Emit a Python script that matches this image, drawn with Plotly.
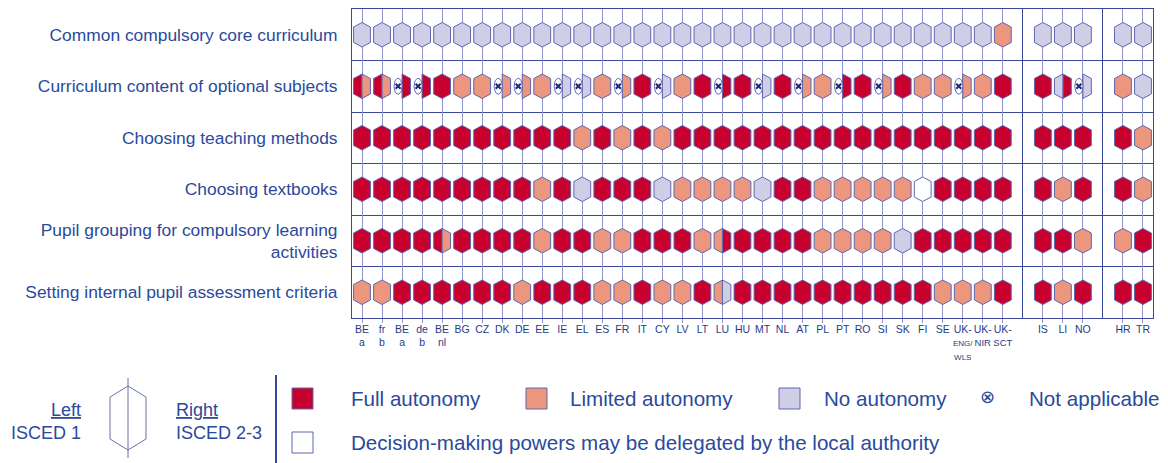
import numpy as np
import plotly.graph_objects as go

# Row labels (areas of decision)
areas = [
    "Common compulsory core curriculum",
    "Curriculum content of optional subjects",
    "Choosing teaching methods",
    "Choosing textbooks",
    "Pupil grouping for compulsory learning<br>activities",
    "Setting internal pupil assessment criteria",
]

small = "<span style='font-size:8px'>{}</span>"
mid = "<span style='font-size:9.5px'>{}</span>"
eu_countries = ["BE<br>a", "fr<br>b", "BE<br>a", "de<br>b", "BE<br>nl", "BG", "CZ", "DK", "DE", "EE",
                "IE", "EL", "ES", "FR", "IT", "CY", "LV", "LT", "LU", "HU", "MT", "NL", "AT", "PL",
                "PT", "RO", "SI", "SK", "FI", "SE",
                "UK-<br>" + small.format("ENG/") + "<br>" + small.format("WLS"),
                "UK-<br>" + mid.format("NIR"), "UK-<br>" + mid.format("SCT")]
efta_countries = ["IS", "LI", "NO"]
candidate_countries = ["HR", "TR"]

# codes: left half = ISCED 1, right half = ISCED 2-3
# F full autonomy, L limited, N no autonomy, X not applicable, W delegated by local authority
core_curriculum = ["NN"] * 32 + ["LL"] + ["NN"] * 3 + ["NN"] * 2
optional_subjects = ["FL", "FL", "XF", "XF", "FF", "LL", "LL", "XL", "XL", "LL",
                     "XN", "XN", "LL", "XL", "FF", "XN", "LL", "FF", "XF", "FF",
                     "XN", "FF", "XL", "LL", "XF", "FF", "XL", "FF", "LL", "LL",
                     "XL", "LL", "FF",
                     "FF", "NF", "XN",
                     "LL", "NN"]
teaching_methods = ["FF"] * 10 + ["FF", "LL", "FF", "LL", "FF", "LL", "FF", "FF", "FF", "FF",
                                  "FF", "FF", "FF", "FF", "FF", "FF", "FF", "FF", "FF", "FF",
                                  "FF", "FF", "FF",
                                  "FF", "FF", "FF",
                                  "FF", "LL"]
textbooks = ["FF"] * 9 + ["LL", "FF", "NN", "FF", "FF", "FF", "NN", "LL", "LL", "LL", "LL",
                          "NN", "FF", "FF", "LL", "LL", "LL", "LL", "LL", "WW", "FF",
                          "FF", "FF", "FF",
                          "FF", "LL", "FF",
                          "FF", "LL"]
pupil_grouping = ["FF", "FF", "FF", "FF", "FL", "FF", "FF", "FF", "FF", "LL",
                  "FF", "FF", "LL", "LL", "FF", "FF", "FF", "LL", "LF", "FF",
                  "FF", "FF", "FF", "LL", "LL", "LL", "LL", "NN", "FF", "FF",
                  "FF", "FF", "FF",
                  "FF", "FF", "LL",
                  "LL", "FF"]
assessment = ["LL", "LL", "FF", "FF", "FF", "FF", "FF", "FF", "LL", "FF",
              "FF", "FF", "LL", "LL", "FF", "LL", "LL", "FF", "LN", "FF",
              "FF", "FF", "FF", "FF", "FF", "FF", "FF", "FF", "FF", "LL",
              "LL", "LL", "FF",
              "FF", "LL", "FF",
              "FF", "FF"]
grid_values = [core_curriculum, optional_subjects, teaching_methods,
               textbooks, pupil_grouping, assessment]

COLORS = {"F": "#C8002E", "L": "#EC967E", "N": "#D0CEE7", "W": "#FFFFFF"}
TEXT = "#2A4A9C"
DARK = "#3A4898"
COLLINE = "#9096CC"
OUTLINE = "#5E66B0"
SANS = "Liberation Sans, Arial, sans-serif"

# column slots, with one empty slot between country groups
xpos, labels, separators = [], [], []
slot = 0
for group in [eu_countries, efta_countries, candidate_countries]:
    if xpos:
        separators.append(slot)
        slot += 1
    for c in group:
        xpos.append(slot)
        labels.append(c)
        slot += 1

# hexagon geometry in axis units (1 column = 1, 1 row = 1)
W, H, CAP = 0.42, 0.238, 0.088


def hexagon(cx, cy, side=0):
    if side == 0:
        xs = [cx, cx + W, cx + W, cx, cx - W, cx - W, cx]
        ys = [cy - H, cy - H + CAP, cy + H - CAP, cy + H, cy + H - CAP, cy - H + CAP, cy - H]
    else:
        xs = [cx, cx + side * W, cx + side * W, cx, cx]
        ys = [cy - H, cy - H + CAP, cy + H - CAP, cy + H, cy - H]
    return xs, ys


polys = {k: ([], []) for k in COLORS}
na_x, na_y = [], []
ell_x, ell_y = [], []
t = np.linspace(0, 2 * np.pi, 25)
for r, row in enumerate(grid_values):
    cy = r + 1
    for cx, code in zip(xpos, row):
        left, right = code[0], code[1]
        if left == right and left != "X":
            xs, ys = hexagon(cx, cy)
            polys[left][0].extend(xs + [None])
            polys[left][1].extend(ys + [None])
            continue
        for part, side in ((left, -1), (right, 1)):
            if part == "X":
                ex = cx + side * 0.2
                ell_x.extend(list(ex + 0.2 * np.cos(t)) + [None])
                ell_y.extend(list(cy + 0.155 * np.sin(t)) + [None])
                na_x.append(ex)
                na_y.append(cy)
            else:
                xs, ys = hexagon(cx, cy, side)
                polys[part][0].extend(xs + [None])
                polys[part][1].extend(ys + [None])

fig = go.Figure()
for k, (xs, ys) in polys.items():
    fig.add_trace(go.Scatter(x=xs, y=ys, mode="lines", fill="toself", fillcolor=COLORS[k],
                             line=dict(color=OUTLINE, width=1), hoverinfo="skip"))
fig.add_trace(go.Scatter(x=ell_x, y=ell_y, mode="lines", fill="toself", fillcolor="white",
                         line=dict(color=OUTLINE, width=1), hoverinfo="skip"))
fig.add_trace(go.Scatter(x=na_x, y=na_y, mode="markers", hoverinfo="skip",
                         marker=dict(symbol="x-thin", size=5, line=dict(color="#1B2A80", width=2))))

# the page puts the figure 8px in from the window edge
OFF = 8
FW, FH = 1168 - OFF, 463 - OFF
# plot area in window pixels
L, R, T, B = 352, 1153, 9, 318


def px(x):
    return (x - L) / (R - L)


def py(y):
    return (B - y) / (B - T)


shapes = []
# legend squares
for x0, col, y0 in [(292, COLORS["F"], 388), (526, COLORS["L"], 388),
                    (779, COLORS["N"], 388), (292, "white", 432)]:
    shapes.append(dict(type="rect", xref="paper", yref="paper", x0=px(x0), x1=px(x0 + 21),
                       y0=py(y0), y1=py(y0 + 21), fillcolor=col,
                       line=dict(color=OUTLINE, width=1)))
# separator line in legend
shapes.append(dict(type="line", xref="paper", yref="paper", x0=px(276), x1=px(276),
                   y0=py(375), y1=py(463), line=dict(color=DARK, width=2)))
# legend hexagon key
hx, hy, hw, hh, hc = 128, 418, 18, 32, 11
path = "M {} {} L {} {} L {} {} L {} {} L {} {} L {} {} Z".format(
    px(hx), py(hy - hh), px(hx + hw), py(hy - hh + hc), px(hx + hw), py(hy + hh - hc),
    px(hx), py(hy + hh), px(hx - hw), py(hy + hh - hc), px(hx - hw), py(hy - hh + hc))
shapes.append(dict(type="path", xref="paper", yref="paper", path=path,
                   line=dict(color="#6A70A8", width=1)))
shapes.append(dict(type="line", xref="paper", yref="paper", x0=px(hx), x1=px(hx),
                   y0=py(378), y1=py(458), line=dict(color="#6A70A8", width=1)))

annotations = []
for text, x, y, anchor, size in [
    ("<u>Left</u>", 83, 410, "right", 18),
    ("ISCED 1", 83, 433, "right", 18),
    ("<u>Right</u>", 174, 410, "left", 18),
    ("ISCED 2-3", 174, 433, "left", 18),
    ("Full autonomy", 349, 398, "left", 20.6),
    ("Limited autonomy", 568, 398, "left", 20.6),
    ("No autonomy", 822, 398, "left", 20.6),
    ("⊗", 987, 397, "center", 18),
    ("Not applicable", 1027, 398, "left", 20.6),
    ("Decision-making powers may be delegated by the local authority", 349, 442, "left", 20.6),
]:
    annotations.append(dict(text=text, xref="paper", yref="paper", x=px(x), y=py(y),
                            xanchor=anchor, yanchor="middle", showarrow=False,
                            font=dict(size=size, color=TEXT, family=SANS)))

fig.update_layout(
    width=FW, height=FH,
    margin=dict(l=L - OFF, r=FW - (R - OFF), t=T - OFF, b=FH - (B - OFF), autoexpand=False),
    paper_bgcolor="white", plot_bgcolor="white",
    showlegend=False,
    shapes=shapes, annotations=annotations,
    font=dict(family=SANS, color=TEXT),
    xaxis=dict(range=[-0.5, slot - 0.5], tickmode="array", tickvals=xpos, ticktext=labels,
               tickangle=0, ticks="outside", ticklen=4, tickcolor=COLLINE,
               ticklabelstandoff=-3, automargin=False,
               showgrid=True, gridcolor=COLLINE, gridwidth=1, zeroline=False,
               showline=True, mirror=True, linecolor=DARK, linewidth=1,
               tickfont=dict(family=SANS, size=10.5, color="#1F3C8C"),
               minor=dict(tickmode="array", tickvals=separators, showgrid=True,
                          gridcolor=DARK, gridwidth=1, ticks=""),
               fixedrange=True),
    yaxis=dict(range=[6.5, 0.5], tickmode="array", tickvals=list(range(1, 7)), ticktext=areas,
               showgrid=False, zeroline=False, ticks="", ticklabelstandoff=10, automargin=False,
               showline=True, mirror=True, linecolor=DARK, linewidth=1,
               tickfont=dict(size=17.4, color=TEXT, family=SANS),
               minor=dict(tickmode="array", tickvals=[1.5, 2.5, 3.5, 4.5, 5.5], showgrid=True,
                          gridcolor=DARK, gridwidth=1, ticks=""),
               fixedrange=True),
)

fig.write_html("out.html")
